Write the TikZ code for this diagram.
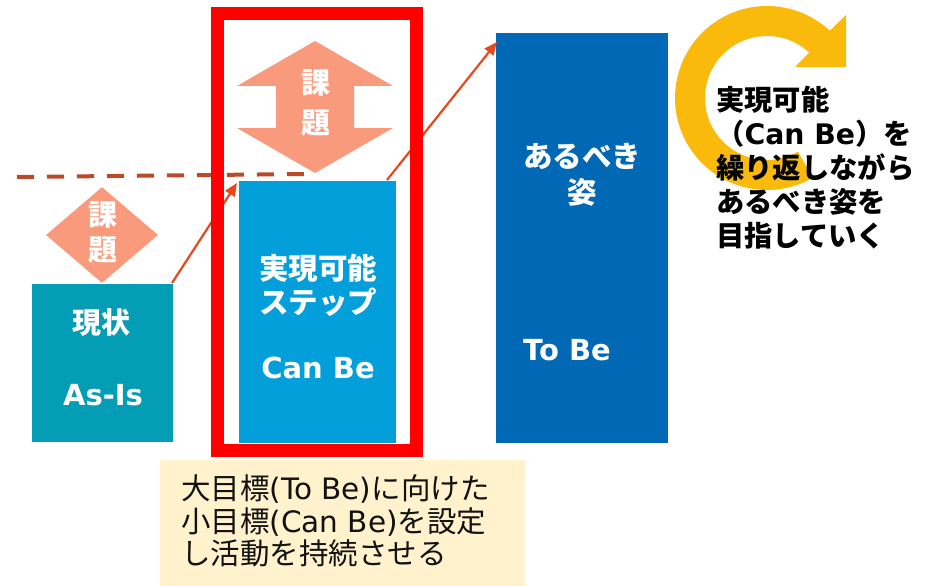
\documentclass[tikz,border=0pt]{standalone}
\usepackage{fontspec}
\setmainfont{Noto Sans CJK JP}
\newfontfamily\latf{DejaVu Sans}
\usetikzlibrary{shapes.geometric,arrows.meta,calc}
\definecolor{asisc}{RGB}{3,158,182}
\definecolor{canbec}{RGB}{2,159,219}
\definecolor{tobec}{RGB}{0,104,180}
\definecolor{salmonc}{RGB}{250,154,124}
\definecolor{dashc}{RGB}{187,74,40}
\definecolor{arrc}{RGB}{232,72,30}
\definecolor{goldc}{RGB}{250,186,12}
\definecolor{tanc}{RGB}{255,242,204}
\begin{document}
\begin{tikzpicture}[x=1pt,y=1pt,
  box/.style={rectangle, inner sep=0pt, outer sep=0pt},
  wtxt/.style={text=white, font=\bfseries\fontsize{29}{35}\selectfont, align=center, inner sep=0pt},
  kadai/.style={text=white, font=\bfseries\fontsize{29}{#1}\selectfont, align=center, inner sep=0pt},
  conn/.style={draw=arrc, line width=2.2pt, -{Triangle[length=13pt,width=11pt]}},
  dashln/.style={draw=dashc, line width=4pt, dash pattern=on 17pt off 13pt}]
\useasboundingbox (0,0) rectangle (935,-586);

% boxes
\node[box, fill=asisc, minimum width=141pt, minimum height=158pt] (asis) at (102.5,-363) {};
\node[box, fill=canbec, minimum width=157pt, minimum height=262pt] (canbe) at (317.5,-312) {};
\node[box, fill=tobec, minimum width=172pt, minimum height=410pt] (tobe) at (582,-238) {};
\node[box, fill=tanc, minimum width=365pt, minimum height=126pt] (tan) at (342.5,-523) {};

% small diamond
\node[diamond, fill=salmonc, minimum width=112pt, minimum height=96pt, aspect=1.17, inner sep=0pt] (dia) at (102,-235) {};
\node[kadai=35] (diatext) at (102.5,-232.5) {課\\題};

% big double arrow
\fill[salmonc] (315,-41) -- (393,-86) -- (354,-86) -- (354,-128) -- (393,-128) -- (315,-173)
  -- (237,-128) -- (276,-128) -- (276,-86) -- (237,-86) -- cycle;
\node[kadai=40] (bigtext) at (315.5,-103) {課\\題};

% dashed line
\coordinate (d1) at (17,-177);
\coordinate (d2) at (307,-174);
\draw[dashln] (d1) -- (d2);

% connectors
\draw[conn] ($(asis.north east)+(-1,1)$) -- ($(canbe.north west)+(-2,-2)$);
\draw[conn] ($(canbe.north east)+(-9,1)$) -- ($(tobe.north west)+(1,-9)$);

% red frame
\node[draw=red, line width=13pt, minimum width=199pt, minimum height=436pt, inner sep=0pt] (frame) at (316.5,-232) {};

% box texts
\node[wtxt] (asis1) at (101,-323) {現状};
\node[wtxt] (asis2) at (103,-395) {\latf As-Is};
\node[wtxt, font=\bfseries\fontsize{29.5}{34}\selectfont] (canbe1) at (318,-285) {実現可能\\ステップ};
\node[wtxt] (canbe2) at (318,-368) {\latf Can Be};
\node[wtxt, font=\bfseries\fontsize{29.5}{36}\selectfont] (tobe1) at (582,-175) {あるべき\\姿};
\node[wtxt, anchor=west] (tobe2) at (523,-350) {\latf To Be};

% circular arrow
\coordinate (C) at (767,-98);
\fill[goldc] ($(C)+(-60:92)$) arc[start angle=-60, end angle=-313, radius=92]
  -- (846,-15) -- (846,-67) -- (795,-67) -- ($(C)+(-313:62)$)
  arc[start angle=-313, end angle=-60, radius=62] -- cycle;

\node[anchor=west, align=left, inner sep=0pt, font=\bfseries\fontsize{28.3}{34}\selectfont] (side) at (716,-168)
  {実現可能\\（{\latf Can Be}）を\\繰り返しながら\\あるべき姿を\\目指していく};

\node[anchor=west, align=left, inner sep=0pt, font=\fontsize{29.5}{32.5}\selectfont, text=black!93] (tantext) at (181,-521)
  {大目標{\latf (To Be)}に向けた\\小目標{\latf (Can Be)}を設定\\し活動を持続させる};
\end{tikzpicture}
\end{document}
